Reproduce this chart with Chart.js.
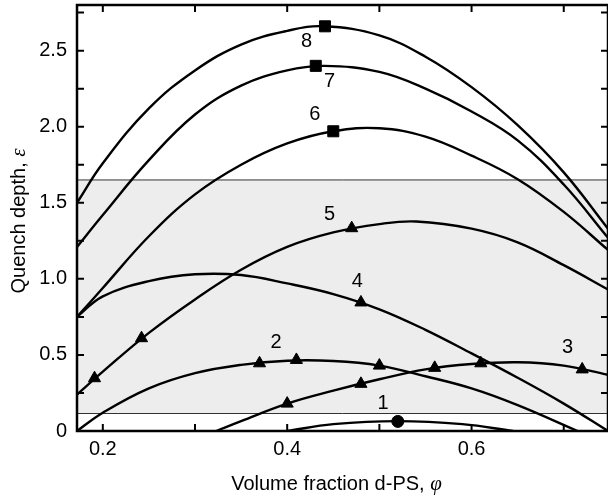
<!DOCTYPE html>
<html>
<head>
<meta charset="utf-8">
<script src="https://cdn.jsdelivr.net/npm/chart.js@4"></script>
<style>
  html, body { margin: 0; padding: 0; background: #fff; }
</style>
</head>
<body>
<canvas id="myChart" width="608" height="500"></canvas>
<script>
// axis range and ticks
const xMin = 0.172, xMax = 0.748;
const yMin = 0, yMax = 2.8;
const xTicks = [0.2, 0.4, 0.6];
const yTicks = [0, 0.5, 1.0, 1.5, 2.0, 2.5];
const xMinorTicks = [0.2, 0.3, 0.4, 0.5, 0.6, 0.7];
const yMinorTicks = [0, 0.25, 0.5, 0.75, 1.0, 1.25, 1.5, 1.75, 2.0, 2.25, 2.5, 2.75];

// shaded band
const bandLow = 0.115, bandHigh = 1.65;

// curves
const curve1X = [0.40, 0.45, 0.52, 0.59, 0.645];
const curve1Y = [0.0, 0.045, 0.065, 0.045, 0.0];
const curve2X = [0.172, 0.2, 0.25, 0.3, 0.35, 0.4, 0.45, 0.5, 0.55, 0.6, 0.65, 0.715];
const curve2Y = [0.0, 0.12, 0.28, 0.38, 0.435, 0.462, 0.46, 0.43, 0.36, 0.28, 0.17, 0.0];
const curve3X = [0.323, 0.35, 0.4, 0.45, 0.5, 0.55, 0.6, 0.65, 0.7, 0.748];
const curve3Y = [0.0, 0.065, 0.18, 0.265, 0.34, 0.405, 0.44, 0.452, 0.43, 0.37];
const curve4X = [0.172, 0.2, 0.25, 0.3, 0.35, 0.4, 0.45, 0.5, 0.55, 0.6, 0.65, 0.7, 0.748];
const curve4Y = [0.75, 0.885, 0.985, 1.03, 1.025, 0.97, 0.90, 0.80, 0.665, 0.51, 0.35, 0.18, 0.0];
const curve5X = [0.172, 0.2, 0.25, 0.3, 0.35, 0.4, 0.45, 0.5, 0.54, 0.6, 0.65, 0.7, 0.748];
const curve5Y = [0.24, 0.39, 0.645, 0.865, 1.06, 1.21, 1.305, 1.36, 1.377, 1.33, 1.24, 1.09, 0.93];
const curve6X = [0.172, 0.2, 0.25, 0.3, 0.35, 0.4, 0.45, 0.5, 0.55, 0.6, 0.65, 0.7, 0.748];
const curve6Y = [0.75, 0.94, 1.28, 1.555, 1.75, 1.89, 1.97, 1.99, 1.935, 1.81, 1.655, 1.44, 1.19];
const curve7X = [0.172, 0.2, 0.25, 0.3, 0.35, 0.4, 0.44, 0.5, 0.55, 0.6, 0.65, 0.7, 0.748];
const curve7Y = [1.21, 1.42, 1.78, 2.08, 2.27, 2.37, 2.40, 2.36, 2.25, 2.10, 1.91, 1.62, 1.27];
const curve8X = [0.172, 0.2, 0.25, 0.3, 0.35, 0.4, 0.44, 0.5, 0.55, 0.6, 0.65, 0.7, 0.748];
const curve8Y = [1.50, 1.76, 2.12, 2.37, 2.54, 2.63, 2.66, 2.60, 2.46, 2.26, 2.01, 1.70, 1.33];

// measured points
const triX = [0.191, 0.242, 0.47, 0.48, 0.37, 0.41, 0.50, 0.40, 0.48, 0.56, 0.61, 0.72];
const triY = [0.347, 0.61, 1.333, 0.845, 0.445, 0.467, 0.43, 0.18, 0.31, 0.415, 0.445, 0.405];
const squareX = [0.441, 0.431, 0.45];
const squareY = [2.66, 2.40, 1.97];
const circleX = [0.52];
const circleY = [0.063];

// curve numbers
const labelText = ['1', '2', '3', '4', '5', '6', '7', '8'];
const labelX = [0.504, 0.388, 0.704, 0.476, 0.446, 0.43, 0.446, 0.421];
const labelY = [0.18, 0.58, 0.55, 0.98, 1.42, 2.08, 2.30, 2.56];

const pts = (xs, ys) => xs.map((x, i) => ({ x: x, y: ys[i] }));

const curves = [
  [curve1X, curve1Y], [curve2X, curve2Y], [curve3X, curve3Y], [curve4X, curve4Y],
  [curve5X, curve5Y], [curve6X, curve6Y], [curve7X, curve7Y], [curve8X, curve8Y]
];

const datasets = [];
curves.forEach(c => {
  datasets.push({
    data: pts(c[0], c[1]),
    borderColor: '#000',
    borderWidth: 2.4,
    pointRadius: 0,
    tension: 0.4,
    fill: false,
    order: 5
  });
});

datasets.push({
  data: pts([xMin, xMax], [bandHigh, bandHigh]),
  borderColor: '#333',
  borderWidth: 1,
  pointRadius: 0,
  fill: { value: bandLow },
  backgroundColor: 'rgb(237,237,237)',
  order: 20
});
datasets.push({
  data: pts([xMin, xMax], [bandLow, bandLow]),
  borderColor: '#333',
  borderWidth: 1,
  pointRadius: 0,
  fill: false,
  order: 19
});

const marker = (xs, ys, style, r) => ({
  data: pts(xs, ys),
  showLine: false,
  pointStyle: style,
  pointRadius: r,
  pointBackgroundColor: '#000',
  pointBorderColor: '#000',
  pointBorderWidth: 1,
  order: 0
});
datasets.push(marker(triX, triY, 'triangle', 7));
datasets.push(marker(squareX, squareY, 'rect', 7.8));
datasets.push(marker(circleX, circleY, 'circle', 6));

const sans = '"Liberation Sans", Arial, sans-serif';
const serif = '"Liberation Serif", "Times New Roman", serif';

function drawMixed(ctx, parts, cx, cy) {
  let total = 0;
  parts.forEach(p => { ctx.font = p[1]; total += ctx.measureText(p[0]).width; });
  let x = cx - total / 2;
  parts.forEach(p => {
    ctx.font = p[1];
    ctx.fillText(p[0], x, cy);
    x += ctx.measureText(p[0]).width;
  });
}

const frame = {
  id: 'frame',
  afterDatasetsDraw(chart) {
    const { ctx, chartArea: a, scales: { x, y } } = chart;
    ctx.save();
    ctx.strokeStyle = '#000';
    ctx.lineWidth = 2;
    ctx.beginPath();
    xMinorTicks.forEach(v => {
      const px = x.getPixelForValue(v);
      ctx.moveTo(px, a.bottom); ctx.lineTo(px, a.bottom - 7);
      ctx.moveTo(px, a.top); ctx.lineTo(px, a.top + 7);
    });
    yMinorTicks.forEach(v => {
      const py = y.getPixelForValue(v);
      ctx.moveTo(a.left, py); ctx.lineTo(a.left + 7, py);
      ctx.moveTo(a.right, py); ctx.lineTo(a.right - 7, py);
    });
    ctx.stroke();
    ctx.lineWidth = 2.5;
    ctx.strokeRect(a.left, a.top, a.right - a.left, a.bottom - a.top);

    ctx.fillStyle = '#000';
    ctx.font = '20px ' + sans;
    ctx.textAlign = 'center';
    ctx.textBaseline = 'middle';
    labelText.forEach((t, i) => {
      ctx.fillText(t, x.getPixelForValue(labelX[i]), y.getPixelForValue(labelY[i]));
    });

    // axis titles
    ctx.textAlign = 'left';
    ctx.textBaseline = 'alphabetic';
    drawMixed(ctx, [['Volume fraction d-PS, ', '20px ' + sans], ['\u03C6', 'italic 21px ' + serif]],
      (a.left + a.right) / 2 - 6, 490);
    ctx.translate(25, (a.top + a.bottom) / 2 + 3);
    ctx.rotate(-Math.PI / 2);
    drawMixed(ctx, [['Quench depth, ', '20px ' + sans], ['\u03B5', 'italic 21px ' + serif]], 0, 0);
    ctx.restore();
  }
};

const ctx = document.getElementById('myChart').getContext('2d');
new Chart(ctx, {
  type: 'line',
  data: { datasets: datasets },
  options: {
    responsive: false,
    animation: false,
    layout: { autoPadding: false, padding: { top: 5, right: 0, left: 0, bottom: 0 } },
    plugins: { legend: { display: false }, tooltip: { enabled: false } },
    scales: {
      x: {
        type: 'linear',
        min: xMin,
        max: xMax,
        grid: { display: false, drawTicks: false },
        border: { display: false },
        afterBuildTicks: s => { s.ticks = xTicks.map(v => ({ value: v })); },
        afterFit: s => { s.height = 69; s.paddingLeft = 0; s.paddingRight = 0; },
        ticks: {
          padding: 6,
          color: '#000',
          maxRotation: 0,
          font: { family: sans, size: 20 },
          callback: v => v.toFixed(1)
        }
      },
      y: {
        type: 'linear',
        min: yMin,
        max: yMax,
        grid: { display: false, drawTicks: false },
        border: { display: false },
        afterBuildTicks: s => { s.ticks = yTicks.map(v => ({ value: v })); },
        afterFit: s => { s.width = 77; s.paddingTop = 0; s.paddingBottom = 0; },
        ticks: {
          padding: 10,
          color: '#000',
          font: { family: sans, size: 20 },
          callback: v => (v === 0 ? '0' : v.toFixed(1))
        }
      }
    }
  },
  plugins: [frame]
});
</script>
</body>
</html>
